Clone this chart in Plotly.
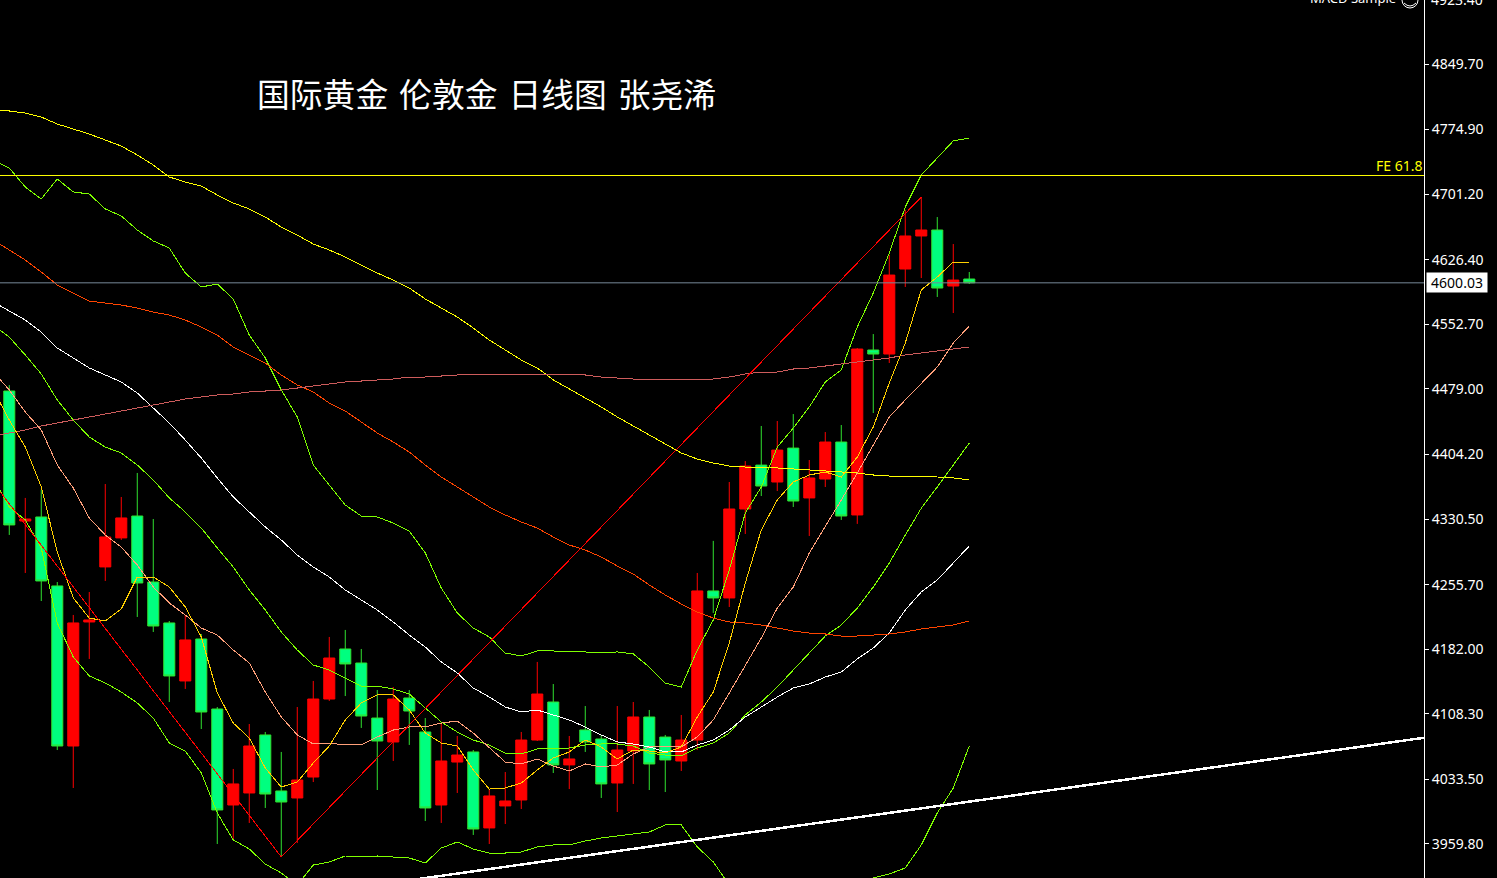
import plotly.graph_objects as go

# daily candles
opens = [4476.6, 4328.3, 4332.9, 4254.2, 4071.6, 4213.1, 4275.9, 4309.0, 4334.0, 4258.7,
         4212.0, 4145.8, 4193.7, 4113.8, 4004.3, 4018.0, 4084.2, 4020.3, 4012.3, 4036.2,
         4125.2, 4182.3, 4166.3, 4103.5, 4076.2, 4126.4, 4087.6, 4004.3, 4053.3, 4064.8,
         3978.1, 4003.2, 4010.0, 4078.4, 4121.8, 4050.0, 4089.9, 4079.6, 4029.4, 4065.9,
         4104.7, 4081.8, 4054.5, 4078.4, 4248.5, 4240.5, 4342.0, 4392.1, 4372.8, 4411.5,
         4354.6, 4376.2, 4418.4, 4335.2, 4523.4, 4518.8, 4615.8, 4653.5, 4660.3, 4596.4, 4604.4]
highs = [4483.4, 4354.6, 4363.7, 4258.7, 4221.1, 4247.3, 4370.5, 4355.7, 4383.1, 4330.6,
         4214.2, 4221.1, 4199.4, 4116.1, 4045.4, 4096.7, 4087.6, 4064.8, 4116.1, 4145.8,
         4196.0, 4204.0, 4182.3, 4135.5, 4138.9, 4135.5, 4103.5, 4097.8, 4083.0, 4067.0,
         4022.5, 4041.9, 4087.6, 4167.5, 4142.3, 4083.0, 4117.2, 4084.2, 4117.2, 4121.8,
         4112.7, 4084.2, 4107.0, 4269.0, 4305.6, 4372.8, 4396.7, 4436.7, 4442.4, 4450.3,
         4397.9, 4429.8, 4437.8, 4525.6, 4541.6, 4631.8, 4683.1, 4697.9, 4675.1, 4644.3, 4612.4]
lows = [4312.4, 4269.0, 4237.0, 4067.0, 4023.7, 4170.9, 4259.9, 4306.7, 4218.8, 4201.7,
        4121.8, 4136.7, 4091.0, 3959.8, 3964.4, 3983.8, 4000.9, 3945.0, 3960.9, 4030.5,
        4123.0, 4128.6, 4092.2, 4021.4, 4054.5, 4072.8, 3986.0, 3983.8, 4018.0, 3970.1,
        3959.8, 3982.6, 3999.7, 4077.3, 4040.8, 4022.5, 4064.8, 4012.3, 3996.3, 4028.3,
        4021.4, 4019.1, 4043.1, 4067.0, 4223.4, 4230.2, 4313.5, 4356.8, 4362.5, 4344.3,
        4311.2, 4367.1, 4329.5, 4325.0, 4451.5, 4508.6, 4595.3, 4605.5, 4583.9, 4565.6, 4598.7]
closes = [4323.8, 4330.6, 4259.9, 4071.6, 4212.0, 4215.4, 4310.1, 4331.8, 4257.6, 4208.5,
          4151.5, 4192.6, 4110.4, 3998.6, 4028.3, 4071.6, 4016.8, 4007.7, 4032.8, 4125.2,
          4172.0, 4165.2, 4105.8, 4077.3, 4125.2, 4111.5, 4000.9, 4054.5, 4061.3, 3976.9,
          4014.6, 4008.9, 4078.4, 4130.9, 4050.0, 4056.8, 4076.2, 4028.3, 4067.0, 4104.7,
          4051.1, 4055.7, 4078.4, 4248.5, 4240.5, 4342.0, 4391.0, 4368.2, 4409.2, 4351.1,
          4377.4, 4418.4, 4334.0, 4524.5, 4518.8, 4608.9, 4653.5, 4660.3, 4594.1, 4603.2, 4600.03]

# indicator lines, one value per bar, first value is the bar just off the left edge
ma_yellow = [4797.2, 4796.1, 4793.8, 4789.2, 4781.2, 4775.5, 4769.8, 4763.0, 4756.1, 4745.9, 4734.5,
             4720.8, 4715.1, 4710.5, 4700.2, 4691.1, 4684.3, 4675.1, 4663.7, 4654.6, 4644.3,
             4637.5, 4629.5, 4620.4, 4611.2, 4603.2, 4594.1, 4581.6, 4571.3, 4561.0, 4548.5,
             4534.8, 4523.4, 4512.0, 4502.9, 4489.3, 4479.0, 4468.6, 4458.4, 4447.0, 4436.7,
             4426.4, 4416.2, 4405.9, 4399.0, 4394.5, 4391.0, 4389.9, 4388.8, 4388.8, 4387.6,
             4386.5, 4385.4, 4384.2, 4383.1, 4380.8, 4379.6, 4379.6, 4379.6, 4378.5, 4377.4, 4375.1]
band_upper = [4740.2, 4731.0, 4709.4, 4695.7, 4718.5, 4703.7, 4701.4, 4684.3, 4676.3, 4660.3, 4647.8,
              4639.8, 4611.2, 4595.3, 4598.7, 4581.6, 4540.5, 4514.3, 4477.8, 4447.0, 4392.2,
              4369.4, 4346.5, 4334.0, 4332.9, 4326.0, 4316.9, 4291.8, 4251.9, 4223.4, 4206.2,
              4196.0, 4177.7, 4174.3, 4180.0, 4180.0, 4178.9, 4178.9, 4177.7, 4178.9, 4176.6,
              4161.7, 4143.5, 4138.9, 4181.1, 4215.4, 4272.4, 4337.4, 4367.1, 4412.7, 4434.4,
              4458.4, 4486.9, 4500.6, 4549.6, 4588.4, 4634.1, 4686.5, 4723.1, 4742.5, 4761.9, 4765.3]
ma_green = [4551.9, 4538.2, 4517.7, 4496.0, 4466.4, 4443.5, 4424.1, 4412.7, 4405.9, 4392.2, 4375.1,
            4354.6, 4338.6, 4320.3, 4297.5, 4275.8, 4249.6, 4226.8, 4201.7, 4181.1, 4164.0,
            4158.3, 4149.2, 4140.0, 4140.0, 4136.6, 4130.9, 4115.0, 4099.0, 4087.6, 4078.4,
            4072.8, 4063.6, 4062.5, 4068.2, 4069.3, 4069.3, 4072.8, 4073.9, 4073.9, 4071.6,
            4063.6, 4061.3, 4060.2, 4069.3, 4075.0, 4086.4, 4107.0, 4121.8, 4138.9, 4158.3,
            4177.7, 4197.1, 4209.6, 4229.0, 4253.0, 4280.4, 4312.3, 4342.9, 4367.1, 4392.2, 4417.3]
band_lower = [4377.4, 4344.3, 4329.5, 4297.5, 4211.9, 4173.1, 4151.5, 4143.5, 4133.2, 4120.7, 4103.5,
              4075.0, 4065.9, 4040.8, 3995.1, 3964.4, 3954.1, 3936.9, 3926.7, 3913.0, 3935.8,
              3939.3, 3946.1, 3945.0, 3946.1, 3945.0, 3943.8, 3938.1, 3955.2, 3962.1, 3954.1,
              3949.5, 3949.5, 3950.7, 3956.4, 3958.7, 3958.7, 3963.2, 3966.6, 3968.9, 3971.2,
              3973.5, 3981.5, 3981.5, 3956.4, 3939.3, 3913.0, 3890.2, 3867.4, 3861.7, 3856.0,
              3861.7, 3873.1, 3890.2, 3907.3, 3921.0, 3925.6, 3932.4, 3958.7, 3995.1, 4023.7, 4071.6]
ma_white = [4578.2, 4567.9, 4557.6, 4543.9, 4525.7, 4514.3, 4502.9, 4494.9, 4486.9, 4474.3, 4457.2,
            4440.1, 4420.7, 4400.2, 4377.4, 4355.7, 4338.6, 4321.5, 4306.6, 4289.5, 4275.8,
            4264.4, 4249.6, 4238.2, 4226.8, 4213.1, 4198.2, 4184.5, 4167.5, 4154.9, 4137.8,
            4127.5, 4116.1, 4110.4, 4112.7, 4107.0, 4101.3, 4093.3, 4084.2, 4076.2, 4073.9,
            4070.5, 4064.8, 4064.8, 4072.8, 4078.4, 4089.8, 4104.7, 4116.1, 4127.5, 4137.8,
            4142.3, 4150.3, 4156.0, 4170.9, 4183.4, 4200.5, 4226.8, 4247.3, 4261.0, 4280.4, 4299.8]
ma_orange = [4648.9, 4637.5, 4626.1, 4612.4, 4597.6, 4588.4, 4579.3, 4577.0, 4574.7, 4571.3, 4566.7,
             4563.3, 4557.6, 4549.6, 4540.5, 4526.8, 4517.7, 4508.6, 4494.9, 4483.5, 4475.5,
             4462.9, 4453.8, 4441.3, 4428.7, 4418.4, 4407.0, 4392.2, 4378.5, 4367.1, 4355.7,
             4344.3, 4335.2, 4327.2, 4320.3, 4310.0, 4300.9, 4295.2, 4287.2, 4277.0, 4267.8,
             4255.3, 4243.9, 4233.6, 4224.5, 4217.6, 4213.1, 4211.9, 4209.6, 4206.2, 4202.8,
             4200.5, 4199.4, 4197.1, 4197.1, 4198.2, 4199.4, 4201.7, 4205.1, 4207.4, 4209.6, 4214.2]
ma_indianred = [4425.3, 4428.7, 4432.1, 4436.7, 4440.1, 4443.5, 4447.0, 4450.4, 4453.8, 4457.2, 4460.6,
                4464.1, 4467.5, 4469.8, 4472.1, 4473.2, 4475.5, 4476.6, 4477.8, 4480.0, 4482.3,
                4484.6, 4486.9, 4488.0, 4489.2, 4490.3, 4492.6, 4492.6, 4493.7, 4494.9, 4494.9,
                4494.9, 4494.9, 4494.9, 4496.0, 4496.0, 4494.9, 4494.9, 4492.6, 4491.5, 4490.3,
                4490.3, 4490.3, 4490.3, 4490.3, 4490.3, 4492.6, 4496.0, 4498.3, 4498.3, 4501.7,
                4502.9, 4505.1, 4507.4, 4509.7, 4512.0, 4514.3, 4517.7, 4520.0, 4522.3, 4524.5, 4526.8]
ma_salmon = [4498.3, 4477.8, 4452.7, 4432.1, 4392.2, 4365.9, 4331.7, 4312.3, 4298.6, 4278.1, 4253.0,
             4234.8, 4221.1, 4206.2, 4198.2, 4181.1, 4166.3, 4133.2, 4104.7, 4084.2, 4073.9,
             4075.0, 4072.8, 4072.8, 4081.9, 4089.8, 4093.3, 4093.3, 4097.8, 4100.1, 4086.4,
             4069.3, 4053.3, 4051.1, 4056.8, 4048.8, 4043.1, 4051.1, 4047.6, 4049.9, 4062.5,
             4070.5, 4070.5, 4070.5, 4081.9, 4101.3, 4132.1, 4164.0, 4194.8, 4229.0, 4253.0,
             4291.8, 4321.5, 4352.3, 4383.1, 4415.0, 4447.0, 4466.4, 4485.7, 4504.0, 4531.4, 4550.8]
ma_gold = [4477.8, 4443.5, 4412.7, 4367.1, 4292.9, 4240.5, 4217.6, 4214.2, 4227.9, 4264.4, 4264.4,
           4253.0, 4230.2, 4196.0, 4132.1, 4097.8, 4080.7, 4046.5, 4024.8, 4030.5, 4052.2,
           4071.6, 4101.3, 4120.7, 4129.8, 4129.8, 4112.7, 4086.4, 4075.0, 4071.6, 4044.2,
           4022.5, 4023.7, 4029.4, 4044.2, 4057.9, 4064.8, 4078.4, 4070.5, 4056.8, 4067.0,
           4065.9, 4063.6, 4070.5, 4104.7, 4133.2, 4189.1, 4257.6, 4318.0, 4352.3, 4372.8,
           4380.8, 4384.2, 4378.5, 4401.3, 4435.6, 4485.7, 4531.4, 4591.9, 4606.7, 4623.8, 4622.7]

# zigzag and trendline run between a few bars only
zigzag_bars = [-1, 17, 57]
zigzag_prices = [4371.7, 3945.0, 4697.9]
trend_bars = [25.6, 88.42]
trend_prices = [3919.9, 4081.0]

fe_level = 4722.5
last_price = 4600.03
price_ticks = [4849.70, 4774.90, 4701.20, 4626.40, 4552.70, 4479.00, 4404.20,
               4330.50, 4255.70, 4182.00, 4108.30, 4033.50, 3959.80]
top_tick = "4923.40"
title = "国际黄金\u2004伦敦金\u2004日线图\u2004张尧浠"

bars = list(range(len(opens)))
line_bars = list(range(-1, len(opens)))

fig = go.Figure()
fig.add_trace(go.Candlestick(
    x=bars, open=opens, high=highs, low=lows, close=closes,
    increasing=dict(line=dict(color="#FF0000", width=1), fillcolor="#FF0000"),
    decreasing=dict(line=dict(color="#2FE02F", width=1), fillcolor="#00FF7F"),
    whiskerwidth=0,
))

for values, color in [(ma_yellow, "#FFFF00"), (band_upper, "#7FFF00"), (ma_green, "#7FFF00"),
                      (band_lower, "#7FFF00"), (ma_white, "#FFFFFF"), (ma_orange, "#FF4500"),
                      (ma_indianred, "#CD5C5C"), (ma_salmon, "#FFA07A"), (ma_gold, "#FFD000")]:
    fig.add_trace(go.Scatter(x=line_bars, y=values, mode="lines", line=dict(color=color, width=1)))

fig.add_trace(go.Scatter(x=zigzag_bars, y=zigzag_prices, mode="lines", line=dict(color="#FF0000", width=1)))
fig.add_trace(go.Scatter(x=trend_bars, y=trend_prices, mode="lines", line=dict(color="#FFFFFF", width=2.5)))

fig.add_hline(y=fe_level, line=dict(color="#FFFF00", width=1))
fig.add_hline(y=last_price, line=dict(color="#778899", width=1))

# the little expert face at the top edge
fig.add_shape(type="circle", xref="paper", yref="paper", xsizemode="pixel", ysizemode="pixel",
              xanchor=1, yanchor=1, x0=-22, x1=-6, y0=-8, y1=8, line=dict(color="#FFFFFF", width=1))
fig.add_shape(type="path", xref="paper", yref="paper", xsizemode="pixel", ysizemode="pixel",
              xanchor=1, yanchor=1, path="M -20 -3 Q -14 -9 -8 -3", line=dict(color="#FFFFFF", width=1))

fig.add_annotation(text=title, xref="paper", yref="paper", x=255 / 1424, y=1 - 92 / 878,
                   xanchor="left", yanchor="middle", showarrow=False,
                   font=dict(family="Noto Sans CJK SC", size=32.8, color="#FFFFFF"))
fig.add_annotation(text="FE 61.8", xref="paper", yref="y", x=1, y=fe_level, yshift=-2,
                   xanchor="right", yanchor="bottom",
                   showarrow=False, font=dict(family="Noto Sans", size=14, color="#FFFF00"))
fig.add_annotation(text="MACD Sample", xref="paper", yref="paper", x=1, y=1, xshift=-26, yshift=2,
                   xanchor="right", yanchor="middle", showarrow=False,
                   font=dict(family="Noto Sans", size=13, color="#FFFFFF"))
fig.add_annotation(text=top_tick, xref="paper", yref="paper", x=1, y=1, xshift=5, yshift=1,
                   xanchor="left", yanchor="middle", showarrow=False,
                   font=dict(family="Noto Sans", size=14, color="#FFFFFF"))
fig.add_annotation(text=f"{last_price:.2f}", xref="paper", yref="y", x=1, y=last_price, xshift=2,
                   xanchor="left", yanchor="middle", showarrow=False, bgcolor="#FFFFFF",
                   width=58, height=17, align="center",
                   font=dict(family="Noto Sans", size=14, color="#000000"))

fig.update_layout(
    width=1497, height=878,
    margin=dict(l=0, r=73, t=0, b=0),
    paper_bgcolor="#000000", plot_bgcolor="#000000",
    showlegend=False,
    boxgap=0.31, boxgroupgap=0,
    xaxis=dict(range=[-0.58, 88.42], visible=False, rangeslider=dict(visible=False), showgrid=False),
    yaxis=dict(range=[3921.0, 4922.72], side="right", showgrid=False, zeroline=False,
               tickvals=price_ticks, tickformat=".2f", ticks="outside", ticklen=4,
               tickcolor="#FFFFFF", showline=True, linecolor="#FFFFFF", linewidth=1,
               tickfont=dict(family="Noto Sans", size=14, color="#FFFFFF")),
)

# page flush with the window, hard pixel lines like the terminal draws them
post = """
document.body.style.margin = '0';
document.body.style.background = '#000';
document.querySelectorAll('.scatterlayer path.js-line').forEach(function (p) {
    p.style.shapeRendering = 'crispEdges';
});
"""
fig.write_html("out.html", post_script=post, config={"displayModeBar": False})
